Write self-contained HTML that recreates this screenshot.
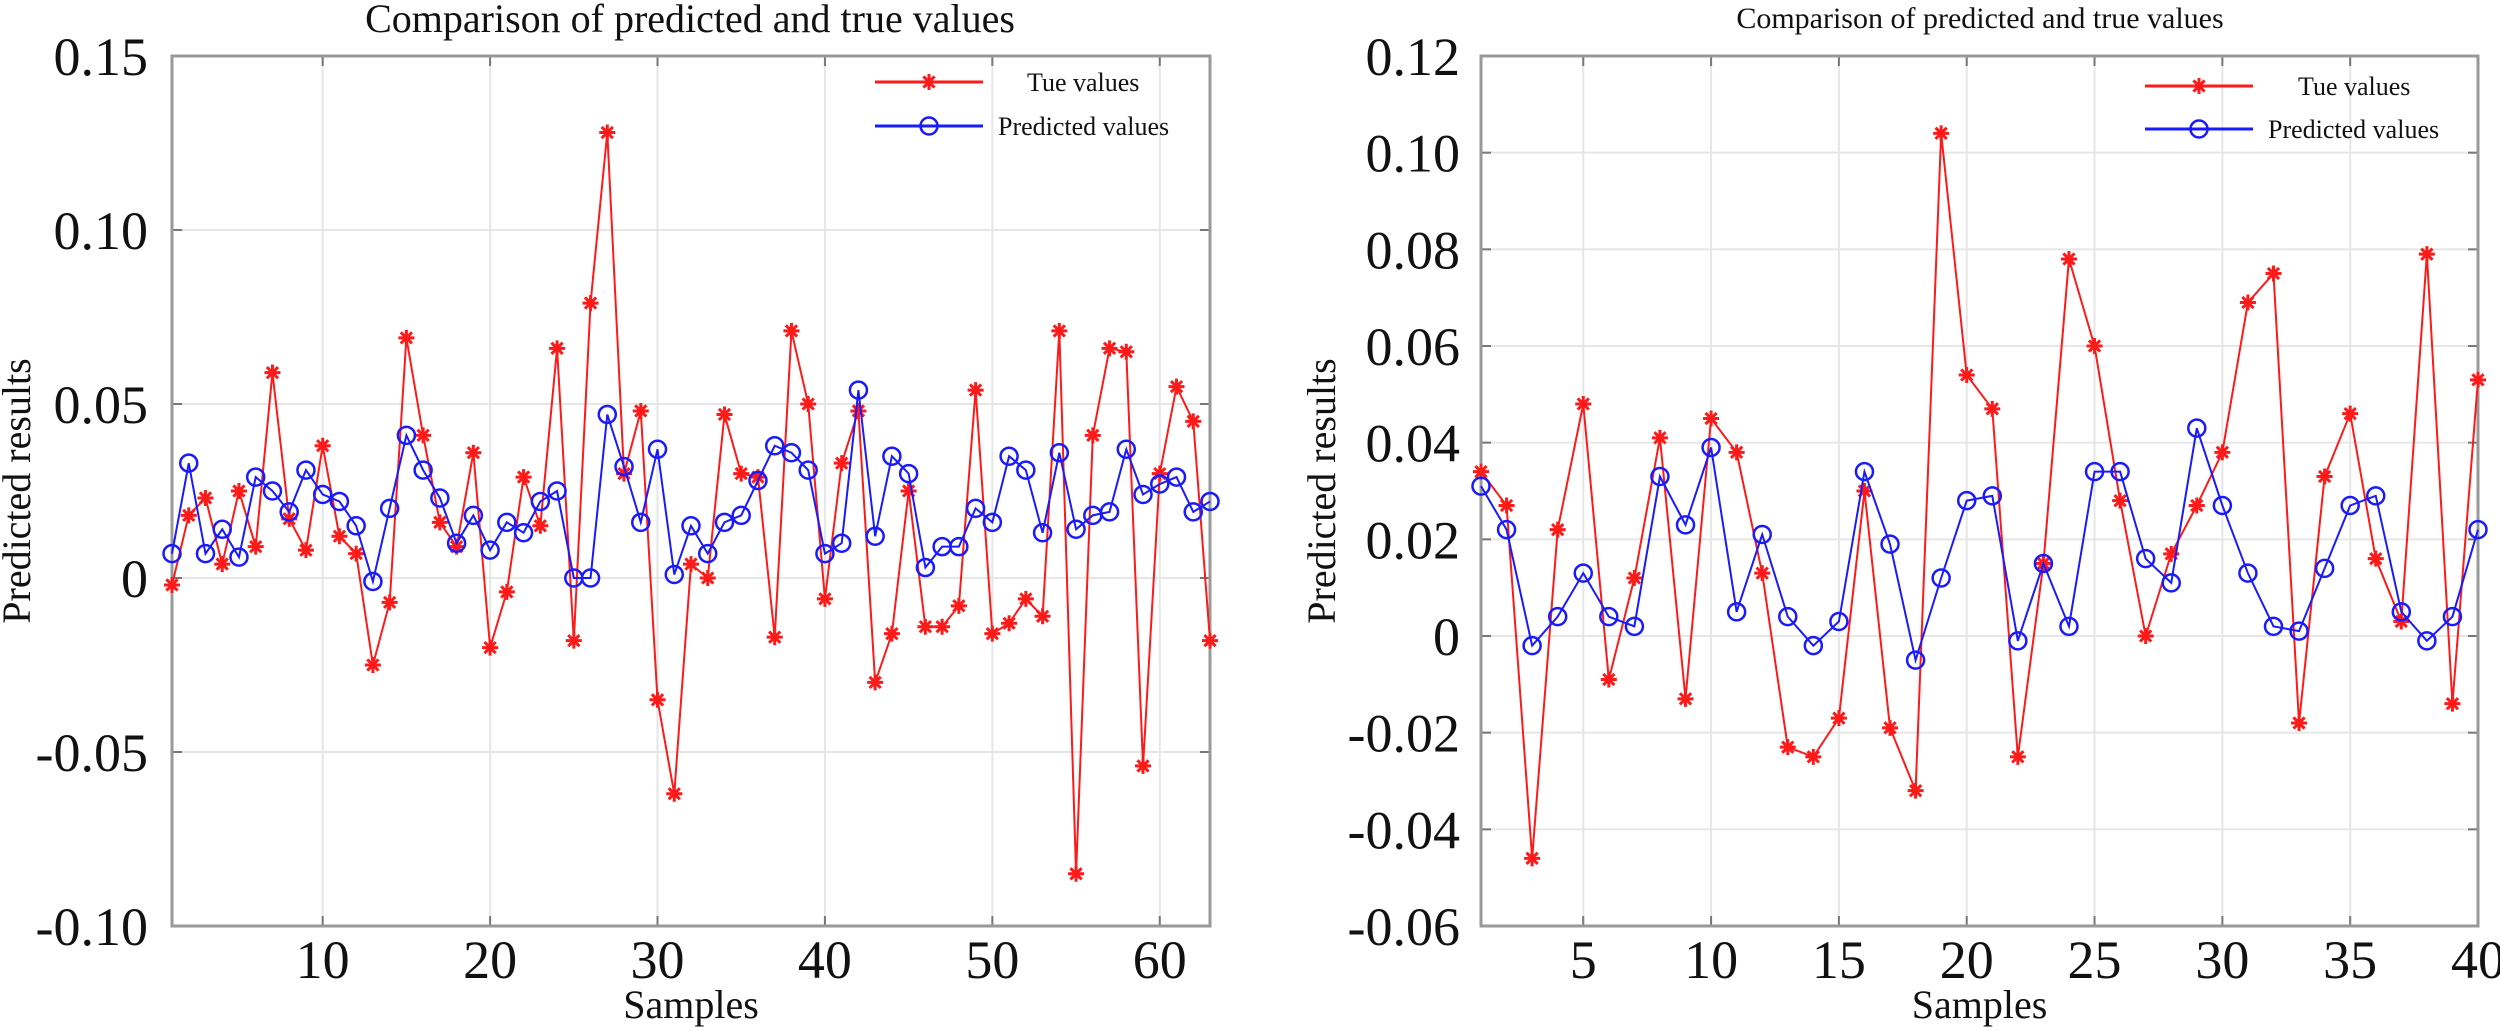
<!DOCTYPE html>
<html><head><meta charset="utf-8"><style>
html,body{margin:0;padding:0;background:#fff;width:2500px;height:1031px;overflow:hidden}
svg{display:block}
text{font-family:"Liberation Serif",serif;fill:#111}
</style></head><body>
<svg id="s" width="2500" height="1031" xmlns="http://www.w3.org/2000/svg"></svg>
<script>
const NS="http://www.w3.org/2000/svg",S=document.getElementById('s');
function el(t,a,txt){const e=document.createElementNS(NS,t);for(const k in a)e.setAttribute(k,a[k]);if(txt!=null)e.textContent=txt;S.appendChild(e);return e;}
function star(x,y,c){const r=8;el('path',{d:`M${x-r} ${y}H${x+r}M${x} ${y-r}V${y+r}M${x-r*.7} ${y-r*.7}L${x+r*.7} ${y+r*.7}M${x-r*.7} ${y+r*.7}L${x+r*.7} ${y-r*.7}`,stroke:c,'stroke-width':3,fill:'none'});}
function circ(x,y,c){el('circle',{cx:x,cy:y,r:8.5,stroke:c,'stroke-width':2.5,fill:'none'});}
function plot(o){
 const X=v=>o.x0+(v-o.xmin)/(o.xmax-o.xmin)*(o.x1-o.x0);
 const Y=v=>o.y1-(v-o.ymin)/(o.ymax-o.ymin)*(o.y1-o.y0);
 // grid
 o.xt.forEach(t=>{const x=X(t);el('line',{x1:x,y1:o.y0,x2:x,y2:o.y1,stroke:'#e6e6e6','stroke-width':2});
  el('line',{x1:x,y1:o.y1,x2:x,y2:o.y1-10,stroke:'#777','stroke-width':2});el('line',{x1:x,y1:o.y0,x2:x,y2:o.y0+10,stroke:'#777','stroke-width':2});
  el('text',{x:x,y:978,'text-anchor':'middle','font-size':54},String(t));});
 o.yt.forEach(t=>{const y=Y(t);if(t>o.ymin&&t<o.ymax){el('line',{x1:o.x0,y1:y,x2:o.x1,y2:y,stroke:'#e6e6e6','stroke-width':2});
  el('line',{x1:o.x0,y1:y,x2:o.x0+10,y2:y,stroke:'#777','stroke-width':2});el('line',{x1:o.x1,y1:y,x2:o.x1-10,y2:y,stroke:'#777','stroke-width':2});}
  el('text',{x:o.lx,y:y+19,'text-anchor':'end','font-size':54},o.fmt(t));});
 el('rect',{x:o.x0,y:o.y0,width:o.x1-o.x0,height:o.y1-o.y0,fill:'none',stroke:'#999','stroke-width':3});
 const pr=(d,c)=>el('polyline',{points:d.map((v,i)=>X(i+1)+','+Y(v)).join(' '),fill:'none',stroke:c,'stroke-width':2});
 pr(o.t,'#ff1a1a');o.t.forEach((v,i)=>star(X(i+1),Y(v),'#ff1a1a'));
 pr(o.p,'#1a1aff');o.p.forEach((v,i)=>circ(X(i+1),Y(v),'#1a1aff'));
 // legend
 const L=o.leg;
 el('line',{x1:L.x,y1:L.y1,x2:L.x+108,y2:L.y1,stroke:'#ff1a1a','stroke-width':3});star(L.x+54,L.y1,'#ff1a1a');
 el('line',{x1:L.x,y1:L.y2,x2:L.x+108,y2:L.y2,stroke:'#1a1aff','stroke-width':3});circ(L.x+54,L.y2,'#1a1aff');
 el('text',{x:L.tx1,y:L.y1+9,'font-size':26},'Tue values');
 el('text',{x:L.tx2,y:L.y2+9,'font-size':26},'Predicted values');
 el('text',{x:o.tcx,y:o.ty,'text-anchor':'middle','font-size':o.tfs},'Comparison of predicted and true values');
 el('text',{x:(o.x0+o.x1)/2,y:1018,'text-anchor':'middle','font-size':40},'Samples');
 el('text',{x:0,y:0,'text-anchor':'middle','font-size':40,transform:`translate(${o.ylx},${(o.y0+o.y1)/2}) rotate(-90)`},'Predicted results');
}
const lt=[-0.002,0.018,0.023,0.004,0.025,0.009,0.059,0.017,0.008,0.038,0.012,0.007,-0.025,-0.007,0.069,0.041,0.016,0.009,0.036,-0.020,-0.004,0.029,0.015,0.066,-0.018,0.079,0.128,0.030,0.048,-0.035,-0.062,0.004,0.000,0.047,0.030,0.029,-0.017,0.071,0.050,-0.006,0.033,0.048,-0.030,-0.016,0.025,-0.014,-0.014,-0.008,0.054,-0.016,-0.013,-0.006,-0.011,0.071,-0.085,0.041,0.066,0.065,-0.054,0.030,0.055,0.045,-0.018];
const lp=[0.007,0.033,0.007,0.014,0.006,0.029,0.025,0.019,0.031,0.024,0.022,0.015,-0.001,0.020,0.041,0.031,0.023,0.010,0.018,0.008,0.016,0.013,0.022,0.025,0.000,0.000,0.047,0.032,0.016,0.037,0.001,0.015,0.007,0.016,0.018,0.028,0.038,0.036,0.031,0.007,0.010,0.054,0.012,0.035,0.030,0.003,0.009,0.009,0.020,0.016,0.035,0.031,0.013,0.036,0.014,0.018,0.019,0.037,0.024,0.027,0.029,0.019,0.022];
const rt=[0.034,0.027,-0.046,0.022,0.048,-0.009,0.012,0.041,-0.013,0.045,0.038,0.013,-0.023,-0.025,-0.017,0.030,-0.019,-0.032,0.104,0.054,0.047,-0.025,0.015,0.078,0.060,0.028,0.000,0.017,0.027,0.038,0.069,0.075,-0.018,0.033,0.046,0.016,0.003,0.079,-0.014,0.053];
const rp=[0.031,0.022,-0.002,0.004,0.013,0.004,0.002,0.033,0.023,0.039,0.005,0.021,0.004,-0.002,0.003,0.034,0.019,-0.005,0.012,0.028,0.029,-0.001,0.015,0.002,0.034,0.034,0.016,0.011,0.043,0.027,0.013,0.002,0.001,0.014,0.027,0.029,0.005,-0.001,0.004,0.022];
plot({x0:172,x1:1210,y0:56,y1:926,xmin:1,xmax:63,ymin:-0.10,ymax:0.15,xt:[10,20,30,40,50,60],yt:[-0.10,-0.05,0,0.05,0.10,0.15],
 fmt:t=>Math.abs(t)<1e-9?'0':t.toFixed(2),lx:148,t:lt,p:lp,leg:{x:875,y1:82,y2:126,tx1:1027,tx2:998},tcx:690,ty:32,tfs:40,ylx:30});
plot({x0:1481,x1:2478,y0:56,y1:926,xmin:1,xmax:40,ymin:-0.06,ymax:0.12,xt:[5,10,15,20,25,30,35,40],yt:[-0.06,-0.04,-0.02,0,0.02,0.04,0.06,0.08,0.10,0.12],
 fmt:t=>Math.abs(t)<1e-9?'0':t.toFixed(2),lx:1460,t:rt,p:rp,leg:{x:2145,y1:86,y2:129,tx1:2298,tx2:2268},tcx:1980,ty:28,tfs:30,ylx:1335});
</script>
</body></html>
